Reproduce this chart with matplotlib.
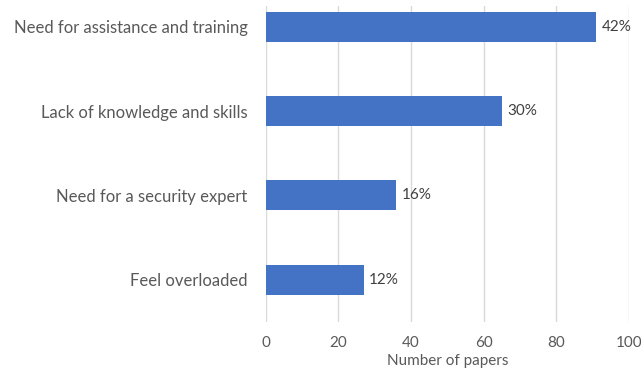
import matplotlib.pyplot as plt

# Reasons reported across the reviewed papers (bottom to top)
reasons = [
    "Feel overloaded",
    "Need for a security expert",
    "Lack of knowledge and skills",
    "Need for assistance and training",
]
paper_counts = [27, 36, 65, 91]
shares = ["12%", "16%", "30%", "42%"]

BAR_COLOR = "#4472C4"
TEXT_COLOR = "#595959"
GRID_COLOR = "#D9D9D9"

plt.rcParams["font.family"] = ["Lato", "DejaVu Sans"]

fig = plt.figure(figsize=(6.41, 3.70), dpi=100)
ax = fig.add_axes([0.4145, 0.1297, 0.5668, 0.8541])

positions = list(range(len(reasons)))
bars = ax.barh(positions, paper_counts, height=0.355, color=BAR_COLOR, zorder=3)

for bar, label in zip(bars, shares):
    ax.text(bar.get_width() + 1.4, bar.get_y() + bar.get_height() / 2, label,
            va="center", ha="left", fontsize=11, color="#404040")

ax.set_xlim(0, 100)
ax.set_ylim(-0.5, 3.245)
ax.set_xticks(range(0, 101, 20))
ax.set_yticks(positions)
ax.set_yticklabels(reasons)

ax.grid(axis="x", color=GRID_COLOR, linewidth=1, zorder=0)
for side in ax.spines.values():
    side.set_visible(False)
ax.tick_params(axis="both", length=0, colors=TEXT_COLOR)
ax.tick_params(axis="x", labelsize=11, pad=10)
ax.tick_params(axis="y", labelsize=12, pad=13)

ax.set_xlabel("Number of papers", fontsize=11, color=TEXT_COLOR, labelpad=3)

fig.savefig("out.png", dpi=100)
